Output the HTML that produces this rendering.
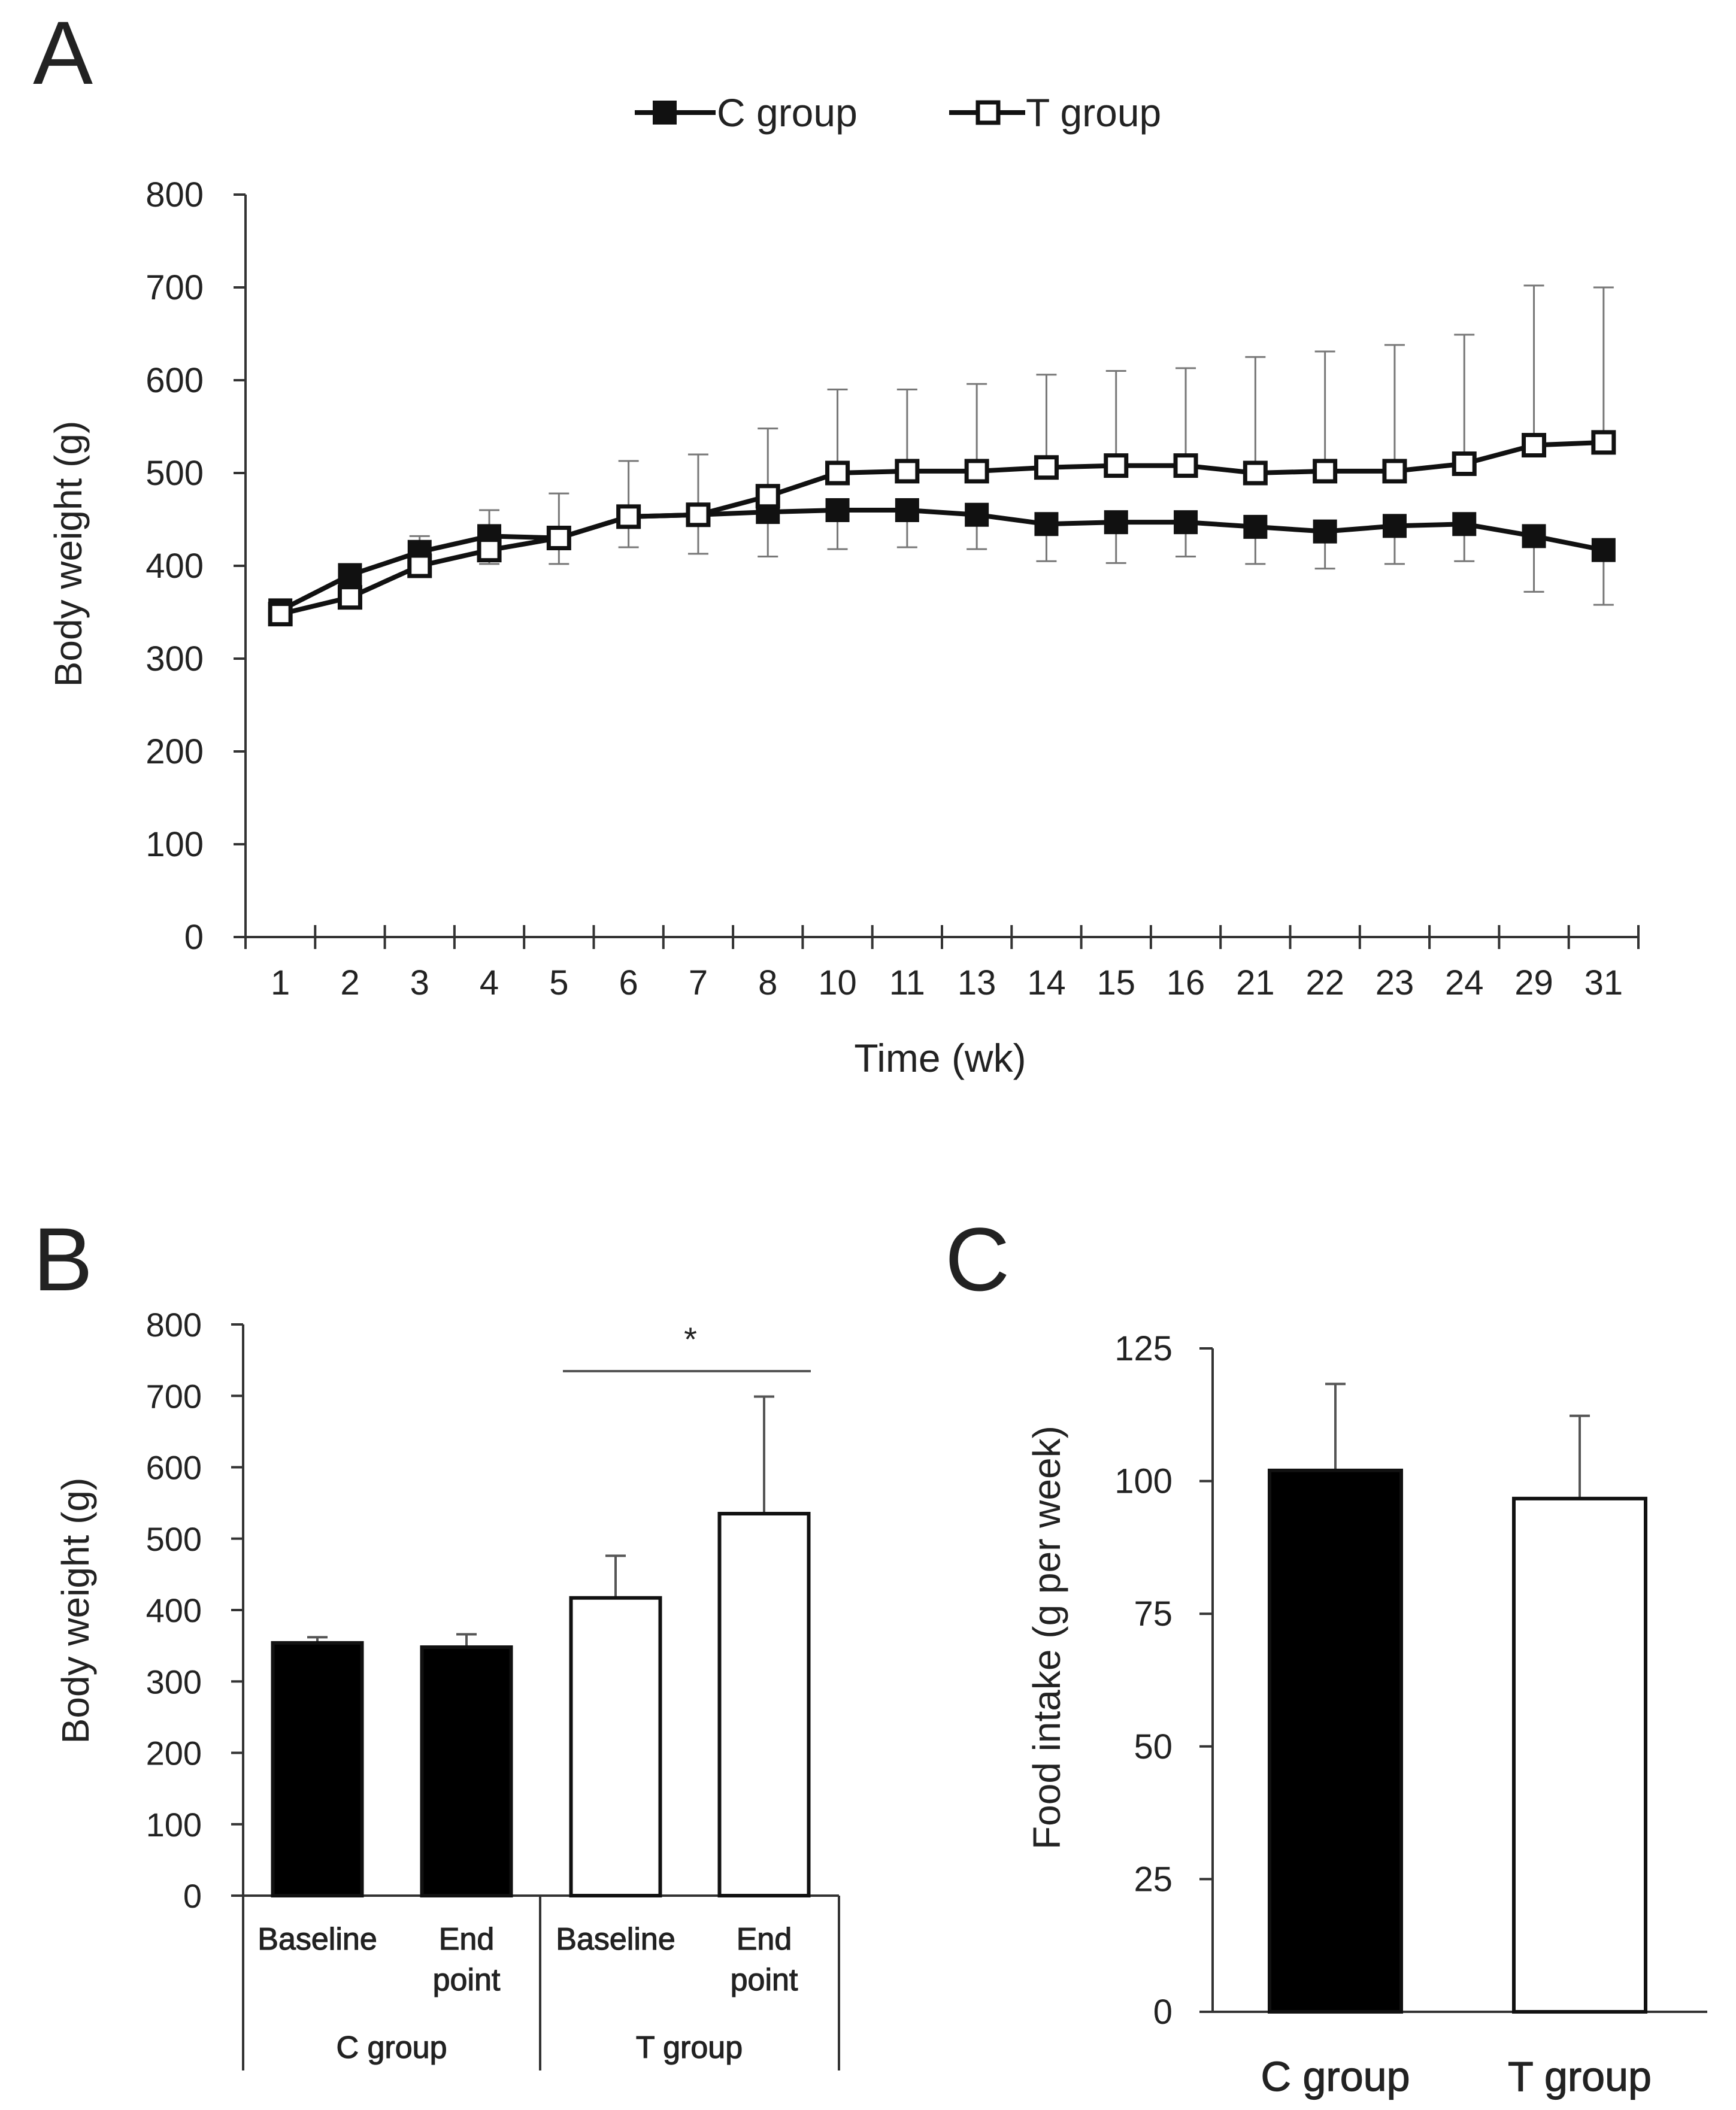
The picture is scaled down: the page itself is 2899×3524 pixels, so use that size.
<!DOCTYPE html>
<html><head><meta charset="utf-8"><style>
html,body{margin:0;padding:0;background:#fff}
svg{display:block}
text{font-family:"Liberation Sans",sans-serif;fill:#222}
</style></head><body>
<svg id="fig" width="2899" height="3524" viewBox="0 0 2899 3524" xmlns="http://www.w3.org/2000/svg">
<text x="55" y="140" font-size="150">A</text>
<text x="55" y="2155" font-size="150">B</text>
<text x="1578" y="2155" font-size="150">C</text>
<g id="gA"></g>
<g id="gB"></g>
<g id="gC"></g>
</svg>
<script>
// Panel A data
const weeks = ["1","2","3","4","5","6","7","8","10","11","13","14","15","16","21","22","23","24","29","31"];
const cMean = [352,390,415,432,430,453,455,458,460,460,455,445,447,447,442,437,443,445,432,417];
const cSd   = [5,8,15,30,28,33,42,48,42,40,37,40,44,37,40,40,41,40,60,59];
const tMean = [348,366,400,417,430,453,455,475,500,502,502,506,508,508,500,502,502,510,530,533];
const tSd   = [5,10,32,43,48,60,65,73,90,88,94,100,102,105,125,129,136,139,172,167];
const aTicks = [0,100,200,300,400,500,600,700,800];
// Panel B data
const bCats = ["Baseline","End point","Baseline","End point"];
const bMean = [354,348,417,535];
const bErr  = [8,18,59,164];
const bTicks = [0,100,200,300,400,500,600,700,800];
// Panel C data
const cCats = ["C group","T group"];
const cIntake = [102,96.7];
const cIntakeErr = [16.3,15.6];
const cTicks = [0,25,50,75,100,125];

const NS="http://www.w3.org/2000/svg";
function mk(parent,tag,attrs,txt){const e=document.createElementNS(NS,tag);for(const k in attrs)e.setAttribute(k,attrs[k]);if(txt!==undefined)e.textContent=txt;parent.appendChild(e);return e;}

// ---- Panel A
(function(){
const g=document.getElementById('gA');
const x0=410,x1=2736,y0=1565,y1=325;
const n=weeks.length, bw=(x1-x0)/n;
const X=i=>x0+bw*(i+0.5), Y=v=>y0-(v/800)*(y0-y1);
let e;
e=mk(g,'line',{x1:x0,y1:y1,x2:x0,y2:y0,stroke:'#333','stroke-width':4});

e=mk(g,'line',{x1:x0-20,y1:y0,x2:x1,y2:y0,stroke:'#333','stroke-width':4});

aTicks.forEach(v=>{
 e=mk(g,'line',{x1:x0-20,y1:Y(v),x2:x0,y2:Y(v),stroke:'#333','stroke-width':4});
 
 e=mk(g,'text',{x:340,y:Y(v)+20,'font-size':58,'text-anchor':'end'},String(v));
 
});
for(let i=0;i<=n;i++){e=mk(g,'line',{x1:x0+bw*i,y1:y0-20,x2:x0+bw*i,y2:y0+20,stroke:'#333','stroke-width':4});
 }
weeks.forEach((w,i)=>{e=mk(g,'text',{x:X(i),y:1661,'font-size':58,'text-anchor':'middle'},w);
 });
e=mk(g,'text',{x:1570,y:1790,'font-size':66,'text-anchor':'middle'},'Time (wk)');

e=mk(g,'text',{x:0,y:0,'font-size':64,'text-anchor':'middle',transform:'translate(136,925) rotate(-90)'},'Body weight (g)');

cMean.forEach((m,i)=>{const x=X(i);
 e=mk(g,'path',{d:`M${x},${Y(m)}V${Y(m-cSd[i])}M${x-17},${Y(m-cSd[i])}H${x+17}`,stroke:'#777','stroke-width':3,fill:'none'});
 });
tMean.forEach((m,i)=>{const x=X(i);
 e=mk(g,'path',{d:`M${x},${Y(m)}V${Y(m+tSd[i])}M${x-17},${Y(m+tSd[i])}H${x+17}`,stroke:'#777','stroke-width':3,fill:'none'});
 });
e=mk(g,'polyline',{points:cMean.map((m,i)=>X(i)+','+Y(m)).join(' '),stroke:'#111','stroke-width':8,fill:'none'});

e=mk(g,'polyline',{points:tMean.map((m,i)=>X(i)+','+Y(m)).join(' '),stroke:'#111','stroke-width':8,fill:'none'});

cMean.forEach((m,i)=>{e=mk(g,'rect',{x:X(i)-20,y:Y(m)-20,width:40,height:40,fill:'#111'});
 });
tMean.forEach((m,i)=>{e=mk(g,'rect',{x:X(i)-17,y:Y(m)-17,width:34,height:34,fill:'#fff',stroke:'#111','stroke-width':7});
 });
const lg=mk(g,'g',{});

e=mk(lg,'line',{x1:1060,y1:188,x2:1195,y2:188,stroke:'#111','stroke-width':8});

e=mk(lg,'rect',{x:1090,y:168,width:40,height:40,fill:'#111'});

e=mk(lg,'text',{x:1197,y:211,'font-size':66,'fill':'#222'},'C group');

e=mk(lg,'line',{x1:1585,y1:188,x2:1712,y2:188,stroke:'#111','stroke-width':8});

e=mk(lg,'rect',{x:1633,y:171,width:34,height:34,fill:'#fff',stroke:'#111','stroke-width':7});

e=mk(lg,'text',{x:1713,y:211,'font-size':66,'fill':'#222'},'T group');

})();

// ---- Panel B
(function(){
const g=document.getElementById('gB');
const x0=406,y0=3166,y1=2212,xr=1401;
const Y=v=>y0-(v/800)*(y0-y1);
const centers=[530,779,1028,1276], bwid=155;
let e;
e=mk(g,'line',{x1:x0,y1:y1,x2:x0,y2:3458,stroke:'#333','stroke-width':4});

e=mk(g,'line',{x1:x0-20,y1:y0,x2:xr,y2:y0,stroke:'#333','stroke-width':4});

e=mk(g,'path',{d:`M902,${y0}V3458M${xr},${y0}V3458`,stroke:'#333','stroke-width':4,fill:'none'});

bTicks.forEach(v=>{
 e=mk(g,'line',{x1:x0-20,y1:Y(v),x2:x0,y2:Y(v),stroke:'#333','stroke-width':4});
 
 e=mk(g,'text',{x:337,y:Y(v)+20,'font-size':56,'text-anchor':'end'},String(v));
 
});
bMean.forEach((m,i)=>{const c=centers[i];
 e=mk(g,'path',{d:`M${c},${Y(m)}V${Y(m+bErr[i])}M${c-17},${Y(m+bErr[i])}H${c+17}`,stroke:'#555','stroke-width':4,fill:'none'});
 
 e=mk(g,'rect',{x:c-bwid/2+3,y:Y(m),width:bwid-6,height:y0-Y(m),fill:i<2?'#000':'#fff',stroke:'#111','stroke-width':6});
 
});
bCats.forEach((c,i)=>{const parts=c.split(' ');
 parts.forEach((p,j)=>{e=mk(g,'text',{x:centers[i],y:3256+j*68,'font-size':52,'text-anchor':'middle','stroke':'#222','stroke-width':1.2},p);
 });
});
e=mk(g,'text',{x:654,y:3437,'font-size':52,'text-anchor':'middle','stroke':'#222','stroke-width':1.2},'C group');

e=mk(g,'text',{x:1151,y:3437,'font-size':52,'text-anchor':'middle','stroke':'#222','stroke-width':1.2},'T group');

e=mk(g,'line',{x1:940,y1:2290,x2:1354,y2:2290,stroke:'#555','stroke-width':4});

e=mk(g,'text',{x:1153,y:2256,'font-size':56,'text-anchor':'middle'},'*');

e=mk(g,'text',{x:0,y:0,'font-size':64,'text-anchor':'middle',transform:'translate(148,2690) rotate(-90)'},'Body weight (g)');

})();

// ---- Panel C
(function(){
const g=document.getElementById('gC');
const x0=2025,y0=3360,y1=2252,xr=2851;
const Y=v=>y0-(v/125)*(y0-y1);
const centers=[2230,2638], bwid=226;
let e;
e=mk(g,'line',{x1:x0,y1:y1,x2:x0,y2:y0,stroke:'#333','stroke-width':4});

e=mk(g,'line',{x1:x0-22,y1:y0,x2:xr,y2:y0,stroke:'#333','stroke-width':4});

cTicks.forEach(v=>{
 e=mk(g,'line',{x1:x0-22,y1:Y(v),x2:x0,y2:Y(v),stroke:'#333','stroke-width':4});
 
 e=mk(g,'text',{x:1958,y:Y(v)+20,'font-size':58,'text-anchor':'end'},String(v));
 
});
cIntake.forEach((m,i)=>{const c=centers[i];
 e=mk(g,'path',{d:`M${c},${Y(m)}V${Y(m+cIntakeErr[i])}M${c-17},${Y(m+cIntakeErr[i])}H${c+17}`,stroke:'#555','stroke-width':4,fill:'none'});
 
 e=mk(g,'rect',{x:c-bwid/2+3,y:Y(m),width:bwid-6,height:y0-Y(m),fill:i===0?'#000':'#fff',stroke:'#111','stroke-width':6});
 
});
cCats.forEach((c,i)=>{e=mk(g,'text',{x:centers[i],y:3492,'font-size':70,'text-anchor':'middle','stroke':'#222','stroke-width':1.2},c);
 });
e=mk(g,'text',{x:0,y:0,'font-size':64,'text-anchor':'middle',transform:'translate(1770,2735) rotate(-90)'},'Food intake (g per week)');

})();
</script>
</body></html>
